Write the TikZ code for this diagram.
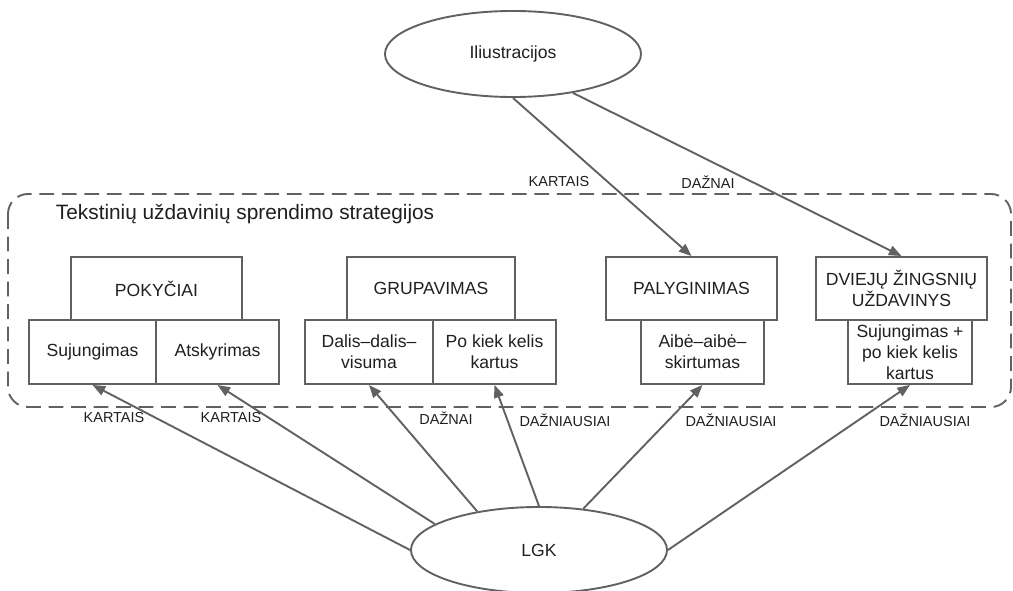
\documentclass[tikz,border=0pt]{standalone}
\usepackage{fontspec}
\setmainfont{Liberation Sans}
\usetikzlibrary{arrows.meta, shapes.geometric}

\begin{document}
\begin{tikzpicture}[x=0.025cm, y=-0.025cm, line width=1.35pt,
  box/.style={draw=black!62, rectangle, inner sep=0pt, align=center, text=black!88,
              font=\fontsize{12.5}{15}\selectfont, minimum height=1.575cm},
  oval/.style={draw=black!62, ellipse, inner sep=0pt, text=black!88,
               minimum width=6.4cm, minimum height=2.15cm, font=\fontsize{12.5}{15}\selectfont},
  lbl/.style={text=black!88, font=\fontsize{10.3}{12}\selectfont},
  link/.style={draw=black!62, -{Triangle[length=9pt,width=7pt]}}]
  \useasboundingbox (0,0) rectangle (1013,591);
  \draw[black!62, dash pattern=on 10.5pt off 5.5pt, rounded corners=0.5cm] (8,194) rectangle (1011,407);
  \node[lbl, anchor=west, inner sep=0pt, font=\fontsize{14.8}{17}\selectfont] (title) at (55,214)
        {Tekstinių uždavinių sprendimo strategijos};
  % ovals
  \node[oval] (ilu) at (513,54) {Iliustracijos};
  \node[oval] (lgk) at (539,550) {LGK};
  % strategy boxes
  \node[box, minimum width=4.275cm] (pok) at (156.5,288.5) {POKYČIAI};
  \node[box, minimum width=3.175cm, minimum height=1.6cm] (suj) at (92.5,352) {Sujungimas};
  \node[box, minimum width=3.075cm, minimum height=1.6cm] (ats) at (217.5,352) {Atskyrimas};
  \node[box, minimum width=4.2cm] (grp) at (431,288.5) {GRUPAVIMAS};
  \node[box, minimum width=3.2cm, minimum height=1.6cm] (dal) at (369,352) {Dalis–dalis–\\visuma};
  \node[box, minimum width=3.075cm, minimum height=1.6cm] (kel) at (494.5,352) {Po kiek kelis\\kartus};
  \node[box, minimum width=4.275cm] (pal) at (691.5,288.5) {PALYGINIMAS};
  \node[box, minimum width=3.075cm, minimum height=1.6cm] (aib) at (702.5,352) {Aibė–aibė–\\skirtumas};
  \node[box, minimum width=4.275cm] (dvi) at (901.5,288.5) {DVIEJŲ ŽINGSNIŲ\\UŽDAVINYS};
  \node[box, minimum width=3.1cm, minimum height=1.6cm] (sjk) at (910,352) {Sujungimas +\\po kiek kelis\\kartus};
  % links
  \draw[link] (ilu.south) -- (pal.north);
  \draw[link] (ilu.327) -- (dvi.north);
  \draw[link] (lgk.west) -- (suj.south);
  \draw[link] (lgk.166) -- (ats.south);
  \draw[link] (lgk.148) -- (dal.south);
  \draw[link] (lgk.north) -- (kel.south);
  \draw[link] (lgk.43) -- (aib.south);
  \draw[link] (lgk.east) -- (sjk.south);
  % labels
  \node[lbl] (l1) at (559,182) {KARTAIS};
  \node[lbl] (l2) at (708,182) {DAŽNAI};
  \node[lbl] (l3) at (114,418) {KARTAIS};
  \node[lbl] (l4) at (231,418) {KARTAIS};
  \node[lbl] (l5) at (446,418) {DAŽNAI};
  \node[lbl] (l6) at (565,420) {DAŽNIAUSIAI};
  \node[lbl] (l7) at (731,420) {DAŽNIAUSIAI};
  \node[lbl] (l8) at (925,420) {DAŽNIAUSIAI};
\end{tikzpicture}
\end{document}
